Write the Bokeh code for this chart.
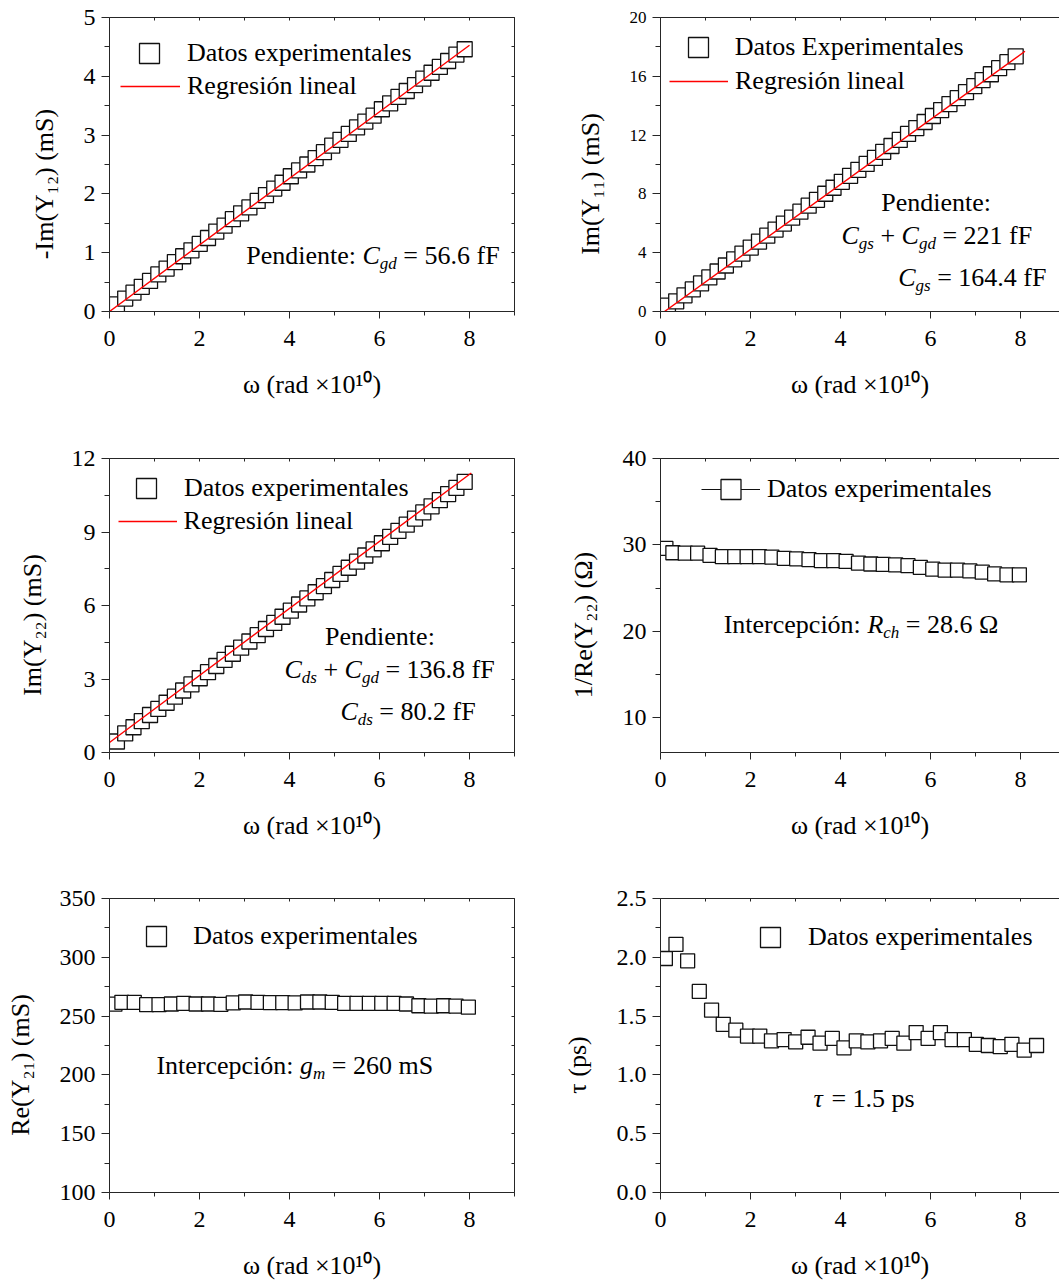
import math
from bokeh.plotting import figure
from bokeh.models import (Range1d, LinearAxis, FixedTicker, Label, Legend,
                          LegendItem, NumeralTickFormatter)
from bokeh.layouts import column, row
from bokeh.embed import file_html
from bokeh.resources import INLINE

# ---------------------------------------------------------------- data
# angular frequency (x 1e10 rad/s), dense sweep used for Im(Y) panels
w_dense = [0.165, 0.349, 0.533, 0.717, 0.901, 1.085, 1.269, 1.453, 1.637, 1.821,
           2.005, 2.189, 2.373, 2.557, 2.741, 2.925, 3.109, 3.293, 3.477, 3.661,
           3.845, 4.029, 4.213, 4.397, 4.581, 4.765, 4.949, 5.133, 5.317, 5.501,
           5.685, 5.869, 6.053, 6.237, 6.421, 6.605, 6.789, 6.973, 7.157, 7.341,
           7.525, 7.709, 7.893]

# -Im(Y12) (mS)
im_y12 = [0.12, 0.22, 0.32, 0.42, 0.52, 0.63, 0.73, 0.84, 0.94, 1.04,
          1.15, 1.25, 1.36, 1.46, 1.57, 1.67, 1.77, 1.88, 1.98, 2.09,
          2.19, 2.30, 2.40, 2.50, 2.61, 2.71, 2.82, 2.92, 3.02, 3.13,
          3.23, 3.33, 3.44, 3.54, 3.65, 3.75, 3.85, 3.96, 4.06, 4.16,
          4.26, 4.37, 4.46]

# Im(Y11) (mS)
im_y11 = [0.40, 0.69, 1.10, 1.50, 1.91, 2.32, 2.72, 3.13, 3.54, 3.94,
          4.35, 4.76, 5.16, 5.57, 5.98, 6.38, 6.79, 7.20, 7.60, 8.01,
          8.42, 8.82, 9.23, 9.64, 10.04, 10.45, 10.86, 11.26, 11.67, 12.08,
          12.48, 12.89, 13.30, 13.70, 14.11, 14.52, 14.92, 15.33, 15.74, 16.14,
          16.55, 16.96, 17.36]

# Im(Y22) (mS)
im_y22 = [0.45, 0.78, 1.03, 1.28, 1.53, 1.78, 2.03, 2.28, 2.53, 2.78,
          3.03, 3.28, 3.53, 3.78, 4.03, 4.28, 4.53, 4.79, 5.04, 5.29,
          5.54, 5.79, 6.04, 6.29, 6.54, 6.79, 7.04, 7.29, 7.54, 7.79,
          8.04, 8.29, 8.54, 8.80, 9.05, 9.30, 9.55, 9.80, 10.05, 10.30,
          10.55, 10.80, 11.05]

# sparser sweep used for the real-part panels
w_sparse = [0.12, 0.275, 0.55, 0.825, 1.10, 1.375, 1.65, 1.925, 2.20, 2.475,
            2.75, 3.025, 3.30, 3.575, 3.85, 4.125, 4.40, 4.675, 4.95, 5.225,
            5.50, 5.775, 6.05, 6.325, 6.60, 6.875, 7.15, 7.425, 7.70, 7.975]

# 1/Re(Y22) (ohm)
inv_re_y22 = [29.6, 29.1, 29.05, 29.05, 28.8, 28.65, 28.65, 28.65, 28.65, 28.6,
              28.45, 28.4, 28.3, 28.2, 28.2, 28.1, 27.9, 27.8, 27.75, 27.7,
              27.6, 27.4, 27.2, 27.1, 27.1, 27.0, 26.85, 26.65, 26.55, 26.55]

# Re(Y21) (mS)
re_y21 = [260.1, 261.7, 261.7, 259.7, 259.7, 260.3, 260.8, 260.3, 260.3, 260.0,
          261.2, 262.0, 261.7, 261.4, 261.4, 261.2, 262.0, 262.0, 261.7, 260.8,
          260.8, 260.8, 260.8, 260.8, 260.3, 258.8, 258.5, 258.8, 258.5, 257.6]

# transport delay
w_tau = [0.108, 0.344, 0.603, 0.862, 1.135, 1.394, 1.674, 1.933, 2.206, 2.466,
         2.747, 3.004, 3.279, 3.545, 3.818, 4.077, 4.350, 4.609, 4.889, 5.149,
         5.408, 5.681, 5.947, 6.220, 6.479, 6.752, 7.018, 7.284, 7.550, 7.809,
         8.082, 8.357]
tau_ps = [1.99, 2.11, 1.97, 1.71, 1.55, 1.43, 1.38, 1.33, 1.33, 1.29,
          1.30, 1.28, 1.32, 1.27, 1.31, 1.23, 1.29, 1.28, 1.29, 1.31,
          1.27, 1.36, 1.31, 1.36, 1.30, 1.30, 1.26, 1.25, 1.24, 1.26,
          1.21, 1.25]

# extracted small-signal parameters
C_gd = 56.6        # fF
C_gs_gd = 221.0    # fF
C_gs = 164.4       # fF
C_ds_gd = 136.8    # fF
C_ds = 80.2        # fF
R_ch = 28.6        # ohm
g_m = 260          # mS
tau_fit = 1.5      # ps

# regression lines: slope in mS per 1e10 rad/s equals C[fF] * 1e-2
fit12_x, fit12_b = [0.0, 8.0], 0.0
fit11_x, fit11_b = [0.09, 8.1], -0.2
fit22_x, fit22_b = [0.0, 8.04], 0.41


def line_pts(xs, c_ff, b):
    return [c_ff * 1e-2 * x + b for x in xs]


# ---------------------------------------------------------------- styling
FONT = "Liberation Serif"
TXT = 26
SUB = 17
TICK = "24px"
AXC = "#262626"
INK = "#111111"
RED = "#ff0000"
PX_UNIT = 45.0
NB = "\u00a0"

COL_OFF = [0, 530]
ROW_OFF = [0, 420, 850]
ROW_H = [420, 430, 433]
ROW_TOP = [17, 38, 48]
FRAME_H = 294

W_UP = {' ': 0.25, NB: 0.25, '(': 0.333, ')': 0.333, '-': 0.333, '.': 0.25,
        '/': 0.278, ':': 0.278, '=': 0.564, '+': 0.564, '×': 0.564,
        'C': 0.667, 'D': 0.722, 'E': 0.611, 'F': 0.556, 'I': 0.333, 'P': 0.556,
        'R': 0.667, 'S': 0.556, 'Y': 0.722,
        'a': 0.444, 'c': 0.444, 'd': 0.5, 'e': 0.444, 'f': 0.333, 'g': 0.5,
        'h': 0.5, 'i': 0.278, 'l': 0.278, 'm': 0.778, 'n': 0.5, 'o': 0.5,
        'ó': 0.5, 'p': 0.5, 'r': 0.333, 's': 0.389, 't': 0.278, 'x': 0.5,
        'ω': 0.686, 'τ': 0.438, 'Ω': 0.768}
for _d in "0123456789":
    W_UP[_d] = 0.5
W_IT = {'C': 0.667, 'R': 0.611, 'g': 0.5, 'd': 0.5, 's': 0.389, 'c': 0.444,
        'h': 0.5, 'm': 0.722, 'τ': 0.438}


def twidth(s, size, italic):
    tab = W_IT if italic else W_UP
    return sum(tab.get(ch, W_UP.get(ch, 0.5)) for ch in s) * size


def make_panel(col, r, y_range, y_major, y_minor, y_fmt, x_title, y_title,
               ytick_size=TICK):
    width = 530 if col == 0 else 529
    left = 109 if col == 0 else 130
    fw = 405 if col == 0 else 399
    right = width - left - fw
    top = ROW_TOP[r]
    h = ROW_H[r]
    bottom = h - top - FRAME_H
    p = figure(width=width, height=h,
               x_range=Range1d(0, fw / PX_UNIT), y_range=Range1d(*y_range),
               min_border_left=left, min_border_right=right,
               min_border_top=top, min_border_bottom=bottom,
               output_backend="svg", toolbar_location=None)
    p.outline_line_color = None
    p.background_fill_color = "white"
    p.border_fill_color = "white"
    p.xgrid.visible = False
    p.ygrid.visible = False

    xa = p.xaxis[0]
    xa.ticker = FixedTicker(ticks=[0, 2, 4, 6, 8], minor_ticks=[1, 3, 5, 7, 9])
    xa.formatter = NumeralTickFormatter(format="0")
    xa.major_tick_out, xa.major_tick_in = 7, 0
    xa.minor_tick_out, xa.minor_tick_in = 4, 0
    xa.major_label_standoff = 12
    xa.axis_label = x_title
    xa.axis_label_standoff = 21

    ya = p.yaxis[0]
    ya.ticker = FixedTicker(ticks=y_major, minor_ticks=y_minor)
    ya.formatter = NumeralTickFormatter(format=y_fmt)
    ya.major_tick_out, ya.major_tick_in = 8, 0
    ya.minor_tick_out, ya.minor_tick_in = 5, 0
    ya.major_label_standoff = 6
    ya.axis_label = y_title
    ya.axis_label_standoff = 22

    for ax, fs in ((xa, TICK), (ya, ytick_size)):
        ax.axis_line_color = AXC
        ax.major_tick_line_color = AXC
        ax.minor_tick_line_color = AXC
        ax.major_label_text_font = FONT
        ax.major_label_text_font_size = fs
        ax.major_label_text_color = "black"
        ax.axis_label_text_font = FONT
        ax.axis_label_text_font_size = f"{TXT}px"
        ax.axis_label_text_font_style = "normal"
        ax.axis_label_text_color = "black"

    # frame edges with short inward ticks
    top_ax = LinearAxis(ticker=FixedTicker(ticks=list(range(0, 10))))
    sides = [(top_ax, "above")]
    if col == 0:
        right_ax = LinearAxis(ticker=FixedTicker(ticks=sorted(y_major + y_minor)))
        sides.append((right_ax, "right"))
    for ax, place in sides:
        ax.axis_line_color = AXC
        ax.major_tick_line_color = AXC
        ax.major_tick_in, ax.major_tick_out = 3, 0
        ax.minor_tick_line_color = None
        ax.major_label_text_color = None
        ax.major_label_text_font_size = "1px"
        ax.major_label_standoff = 0
        p.add_layout(ax, place)

    geo = dict(left=COL_OFF[col] + left, top=ROW_OFF[r] + top, h=FRAME_H,
               x0=0.0, y0=y_range[0])
    return p, geo


def rich(p, geo, pieces, X, Y, drop=8):
    """Place a run of text pieces (normal / italic / subscript) at page px."""
    pos = 0.0
    for txt, kind in pieces:
        txt = txt.replace(" ", NB)
        small = kind in ("sub", "isub")
        fs = SUB if small else TXT
        it = kind in ("i", "isub")
        shift = -drop if small else 0
        p.add_layout(Label(
            x=geo["x0"], y=geo["y0"],
            x_offset=X + pos - geo["left"],
            y_offset=geo["top"] + geo["h"] - (Y - shift),
            text=txt, text_font=FONT, text_font_size=f"{fs}px",
            text_font_style="italic" if it else "normal",
            text_align="left", text_baseline="alphabetic", text_color="black"))
        pos += twidth(txt, fs, it)


def legend_at(p, geo, renderers, label, x_left, x_right, cy, gh, text_x):
    leg = Legend(items=[LegendItem(label=label, renderers=renderers)],
                 location=(x_left - geo["left"], geo["top"] + geo["h"] - (cy + gh / 2)),
                 glyph_width=int(round(x_right - x_left)), glyph_height=gh,
                 label_standoff=int(round(text_x - x_right)),
                 padding=0, margin=0, spacing=0,
                 border_line_color=None, background_fill_alpha=0,
                 label_text_font=FONT, label_text_font_size=f"{TXT}px",
                 label_text_color="black", label_height=gh)
    p.add_layout(leg)


def squares(p, x, y, size=14):
    return p.scatter(x, y, marker="square", size=size, fill_color="white",
                     line_color=INK, line_width=1.3)


def fit_line(p, xs, c_ff, b):
    return p.line(xs, line_pts(xs, c_ff, b), line_color=RED, line_width=1.4)


W_TITLE = "ω (rad ×10¹⁰)"
PAD = NB * 6   # trailing pad nudges the rotated titles slightly downward

# ---------------------------------------------------------------- -Im(Y12)
p1, g1 = make_panel(0, 0, (0, 5), [0, 1, 2, 3, 4, 5],
                    [0.5, 1.5, 2.5, 3.5, 4.5], "0",
                    W_TITLE, "-Im(Y₁₂) (mS)" + PAD)
s1 = squares(p1, w_dense, im_y12, 15)
l1 = fit_line(p1, fit12_x, C_gd, fit12_b)
legend_at(p1, g1, [s1], "Datos experimentales", 124, 174, 52.5, 50, 187)
legend_at(p1, g1, [l1], "Regresión lineal", 120, 180, 85.5, 30, 187)
rich(p1, g1, [("Pendiente: ", "n"), ("C", "i"), ("gd", "isub"),
              (f" = {C_gd} fF", "n")], 245.7, 255)

# ---------------------------------------------------------------- Im(Y11)
p2, g2 = make_panel(1, 0, (0, 20), [0, 4, 8, 12, 16, 20],
                    [2, 6, 10, 14, 18], "0",
                    W_TITLE, "Im(Y₁₁) (mS)" + PAD, ytick_size="17px")
s2 = squares(p2, w_dense, im_y11, 15)
l2 = fit_line(p2, fit11_x, C_gs_gd, fit11_b)
legend_at(p2, g2, [s2], "Datos Experimentales", 672.7, 722.7, 47.2, 50, 735)
legend_at(p2, g2, [l2], "Regresión lineal", 669, 728, 80.5, 30, 735)
rich(p2, g2, [("Pendiente:", "n")], 880.7, 201.7)
rich(p2, g2, [("C", "i"), ("gs", "isub"), (" + ", "n"), ("C", "i"), ("gd", "isub"),
              (f" = {C_gs_gd:.0f} fF", "n")], 841, 235)
rich(p2, g2, [("C", "i"), ("gs", "isub"), (f" = {C_gs} fF", "n")], 897.7, 276.7)

# ---------------------------------------------------------------- Im(Y22)
p3, g3 = make_panel(0, 1, (0, 12), [0, 3, 6, 9, 12],
                    [1.5, 4.5, 7.5, 10.5], "0",
                    W_TITLE, "Im(Y₂₂) (mS)" + PAD)
s3 = squares(p3, w_dense, im_y22, 15)
l3 = fit_line(p3, fit22_x, C_ds_gd, fit22_b)
legend_at(p3, g3, [s3], "Datos experimentales", 121, 171, 487.5, 50, 183.7)
legend_at(p3, g3, [l3], "Regresión lineal", 117.6, 176.9, 520.5, 30, 183.7)
rich(p3, g3, [("Pendiente:", "n")], 324.6, 636)
rich(p3, g3, [("C", "i"), ("ds", "isub"), (" + ", "n"), ("C", "i"), ("gd", "isub"),
              (f" = {C_ds_gd} fF", "n")], 284, 669.3)
rich(p3, g3, [("C", "i"), ("ds", "isub"), (f" = {C_ds} fF", "n")], 339.9, 710.7)

# ---------------------------------------------------------------- 1/Re(Y22)
p4, g4 = make_panel(1, 1, (6, 40), [10, 20, 30, 40], [15, 25, 35], "0",
                    W_TITLE, "1/Re(Y₂₂) (Ω)" + PAD)
c4 = p4.line(w_sparse, inv_re_y22, line_color=INK, line_width=1)
s4 = squares(p4, w_sparse, inv_re_y22)
legend_at(p4, g4, [c4, s4], "Datos experimentales", 701, 760, 488.7, 50, 767.2)
rich(p4, g4, [("Intercepción: ", "n"), ("R", "i"), ("ch", "isub"),
              (f" = {R_ch} Ω", "n")], 723.2, 624)

# ---------------------------------------------------------------- Re(Y21)
p5, g5 = make_panel(0, 2, (100, 350), [100, 150, 200, 250, 300, 350],
                    [125, 175, 225, 275, 325], "0",
                    W_TITLE, "Re(Y₂₁) (mS)" + PAD)
s5 = squares(p5, w_sparse, re_y21)
legend_at(p5, g5, [s5], "Datos experimentales", 131.2, 181.2, 935.5, 50, 193.2)
rich(p5, g5, [("Intercepción: ", "n"), ("g", "i"), ("m", "isub"),
              (f" = {g_m} mS", "n")], 155.9, 1065)

# ---------------------------------------------------------------- tau
p6, g6 = make_panel(1, 2, (0, 2.5), [0, 0.5, 1.0, 1.5, 2.0, 2.5],
                    [0.25, 0.75, 1.25, 1.75, 2.25], "0.0",
                    W_TITLE, "τ (ps)" + PAD)
s6 = squares(p6, w_tau, tau_ps)
legend_at(p6, g6, [s6], "Datos experimentales", 745, 795, 937.2, 50, 807.9)
rich(p6, g6, [("τ", "i"), (f" = {tau_fit} ps", "n")], 813, 1098.3)

layout = column(row(p1, p2), row(p3, p4), row(p5, p6))

with open("out.html", "w", encoding="utf-8") as f:
    f.write(file_html(layout, INLINE))
